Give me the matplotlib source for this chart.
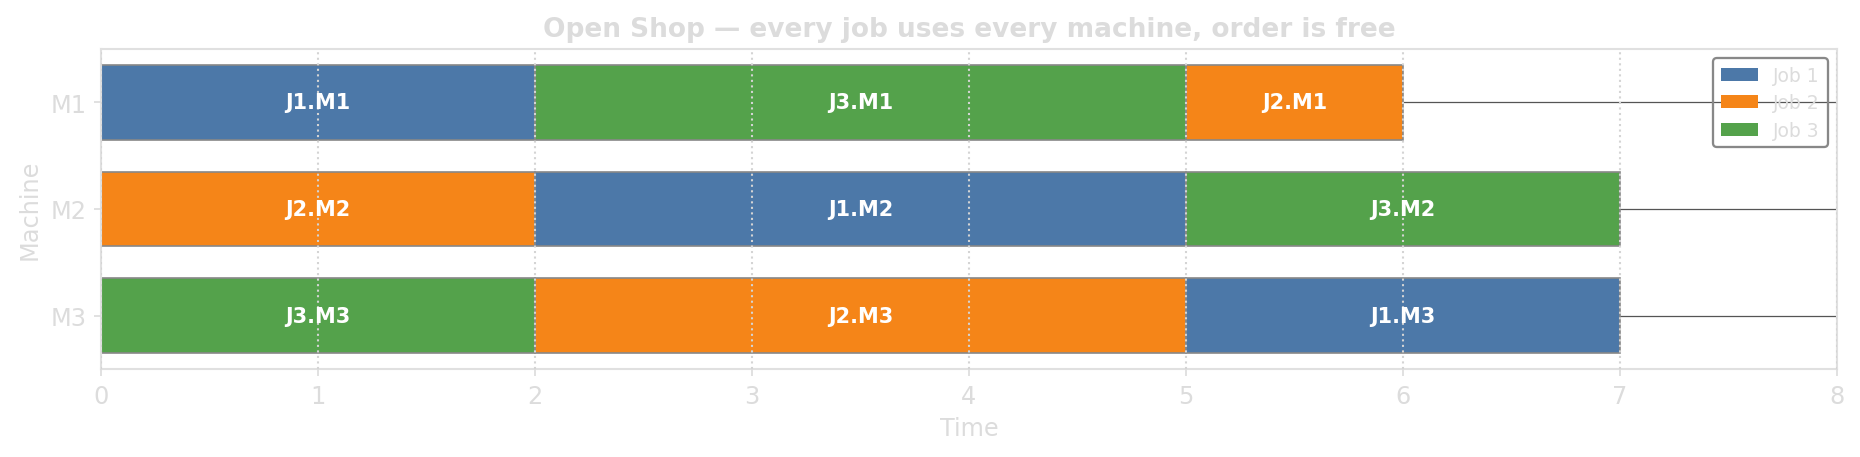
import matplotlib
matplotlib.use("Agg")
import matplotlib.pyplot as plt
from matplotlib.patches import Patch

# machines (rows) and the operations scheduled on each
machines = ["M1", "M2", "M3"]
op_machine = ["M1", "M1", "M1", "M2", "M2", "M2", "M3", "M3", "M3"]
op_job = [1, 3, 2, 2, 1, 3, 3, 2, 1]
op_start = [0, 2, 5, 0, 2, 5, 0, 2, 5]
op_dur = [2, 3, 1, 2, 3, 2, 2, 3, 2]

job_names = ["Job 1", "Job 2", "Job 3"]
job_colors = {1: "#4c78a8", 2: "#f58518", 3: "#54a24b"}

LIGHT = "#dcdcdc"

fig, ax = plt.subplots(figsize=(12.4, 3.053), dpi=150)
fig.subplots_adjust(left=0.0543, right=0.9876, top=0.891, bottom=0.192)

ypos = {m: i for i, m in enumerate(machines)}

# thin line across each machine row (hidden behind bars)
for m in machines:
    ax.hlines(ypos[m], 0, 8, color="#555555", lw=0.6, zorder=1)

for m, j, s, d in zip(op_machine, op_job, op_start, op_dur):
    ax.barh(ypos[m], d, left=s, height=0.7, color=job_colors[j],
            edgecolor="#888888", linewidth=0.8, zorder=2)
    ax.text(s + d / 2, ypos[m], f"J{j}.{m}", ha="center", va="center",
            color="white", fontsize=10, fontweight="bold", zorder=4)

ax.set_xlim(0, 8)
ax.set_ylim(2.5, -0.5)
ax.set_yticks(range(len(machines)))
ax.set_yticklabels(machines)
ax.set_xticks(range(9))

ax.grid(axis="x", linestyle=":", color="#d4d4d4", lw=1.0, zorder=3)
ax.set_axisbelow(False)

for sp in ax.spines.values():
    sp.set_color("#e0e0e0")
    sp.set_linewidth(1.0)
ax.tick_params(colors=LIGHT, labelcolor=LIGHT, labelsize=11.5)

ax.set_xlabel("Time", color=LIGHT, fontsize=11.5)
ax.set_ylabel("Machine", color=LIGHT, fontsize=11.5)
ax.set_title("Open Shop — every job uses every machine, order is free",
             color=LIGHT, fontsize=12.7, fontweight="bold")

handles = [Patch(facecolor=job_colors[k + 1], label=job_names[k]) for k in range(3)]
leg = ax.legend(handles=handles, loc="upper right", fontsize=9,
                facecolor="none", framealpha=1, edgecolor="#888888",
                labelcolor=LIGHT, labelspacing=0.45)
leg.get_frame().set_linewidth(1.1)
leg.set_zorder(5)

fig.savefig("out.png", dpi=150)
